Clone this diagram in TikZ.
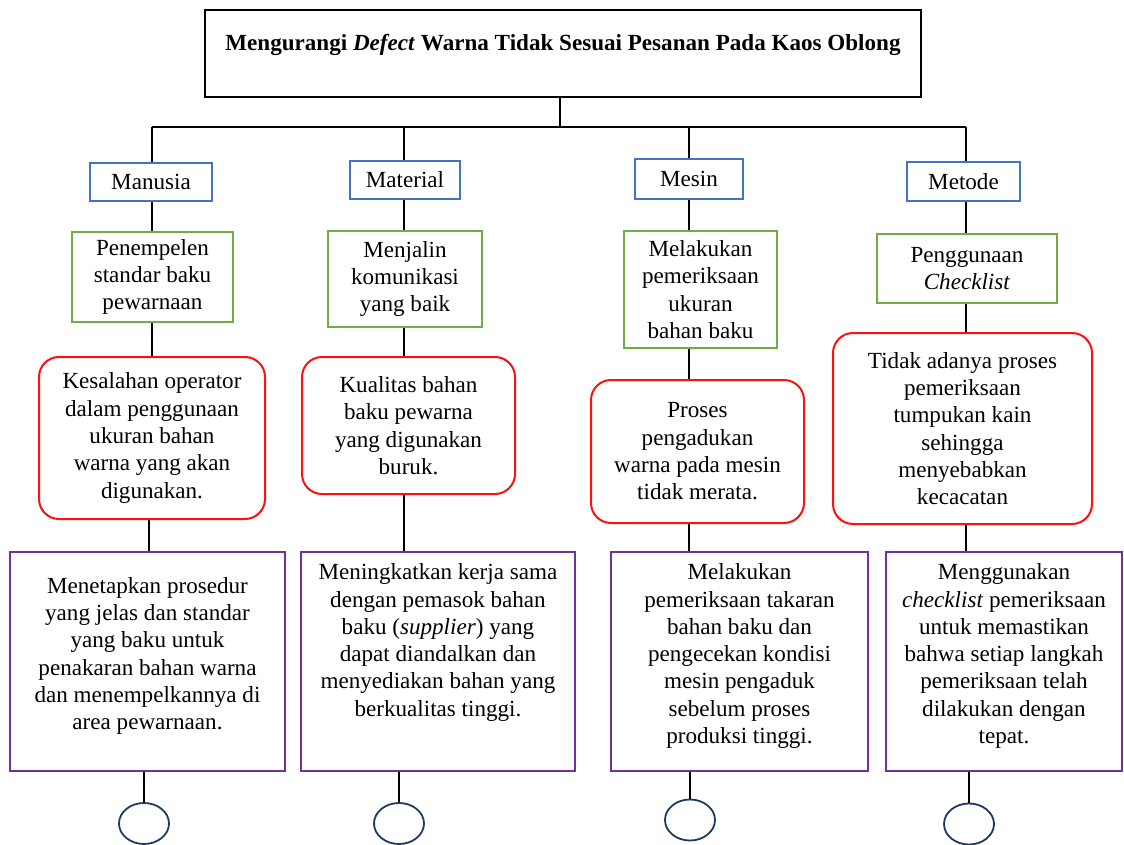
\documentclass[tikz,border=0pt]{standalone}
\usepackage{fontspec}
\setmainfont{Liberation Serif}
\usetikzlibrary{positioning,shapes.geometric}
\definecolor{catblue}{HTML}{4472C4}
\definecolor{plangreen}{HTML}{70AD47}
\definecolor{causered}{HTML}{FF1010}
\definecolor{fixpurple}{HTML}{7030A0}
\definecolor{endnavy}{HTML}{203864}

\begin{document}
\begin{tikzpicture}[x=1pt,y=-1pt,
  every node/.style={font=\fontsize{23.1}{27.3}\selectfont,inner sep=0pt,align=center},
  goal/.style={draw,line width=1.5pt,minimum width=716pt,minimum height=87pt,
    font=\fontsize{23.1}{27.3}\selectfont\bfseries,text depth=22pt},
  cat/.style={draw=catblue,line width=2.2pt},
  plan/.style={draw=plangreen,line width=2pt},
  cause/.style={draw=causered,line width=2pt,rounded corners=20pt},
  fix/.style={draw=fixpurple,line width=2pt,minimum height=219pt},
  endc/.style={draw=endnavy,line width=1.8pt,ellipse,minimum width=50pt,minimum height=41pt},
  link/.style={line width=1.5pt},
  bus/.style={line width=2.8pt}]
  \useasboundingbox (0,0) rectangle (1124,845);

  % goal and bus
  \node[goal] (goal) at (563,53.5) {Mengurangi \textit{Defect} Warna Tidak Sesuai Pesanan Pada Kaos Oblong};
  \coordinate (k1) at (152,127);
  \coordinate (k2) at (404,127);
  \coordinate (k3) at (689,127);
  \coordinate (k4) at (966,127);
  \coordinate (k1low) at (149,127);
  \draw[link] ([xshift=-3pt]goal.south) -- ([xshift=-3pt]goal.south |- k1);
  \draw[bus] (k1) -- (k4);

  % categories
  \node[cat,minimum width=122pt,minimum height=38pt] (cat1) at (151,182) {Manusia};
  \node[cat,minimum width=110pt,minimum height=38pt] (cat2) at (405,180) {Material};
  \node[cat,minimum width=108pt,minimum height=40pt] (cat3) at (689,179) {Mesin};
  \node[cat,minimum width=113pt,minimum height=39pt] (cat4) at (963.5,181.5) {Metode};

  % plans
  \node[plan,minimum width=161pt,minimum height=90pt] (plan1) at (152.5,277) {Penempelen\\standar baku\\pewarnaan};
  \node[plan,minimum width=154pt,minimum height=96pt] (plan2) at (405,279) {Menjalin\\komunikasi\\yang baik};
  \node[plan,minimum width=153pt,minimum height=117pt] (plan3) at (700.5,289.5) {Melakukan\\pemeriksaan\\ukuran\\bahan baku};
  \node[plan,minimum width=180pt,minimum height=69pt] (plan4) at (967,268.5) {Penggunaan\\\textit{Checklist}};

  % causes
  \node[cause,minimum width=226pt,minimum height=162pt] (cause1) at (152,438)
    {Kesalahan operator\\dalam penggunaan\\ukuran bahan\\warna yang akan\\digunakan.};
  \node[cause,minimum width=213pt,minimum height=137pt] (cause2) at (408.5,425.5)
    {Kualitas bahan\\baku pewarna\\yang digunakan\\buruk.};
  \node[cause,minimum width=213pt,minimum height=143pt] (cause3) at (697.5,451.5)
    {Proses\\pengadukan\\warna pada mesin\\tidak merata.};
  \node[cause,minimum width=259pt,minimum height=191pt] (cause4) at (962.5,428.5)
    {Tidak adanya proses\\pemeriksaan\\tumpukan kain\\sehingga\\menyebabkan\\kecacatan};

  % fixes
  \node[fix,minimum width=275pt] (fix1) at (147.5,661.5) {};
  \node[fix,minimum width=274pt] (fix2) at (438,661.5) {};
  \node[fix,minimum width=257pt] (fix3) at (739.5,661.5) {};
  \node[fix,minimum width=236pt] (fix4) at (1004,661.5) {};
  \node[below=26pt of fix1.north] (fix1txt) {Menetapkan prosedur\\yang jelas dan standar\\yang baku untuk\\penakaran bahan warna\\dan menempelkannya di\\area pewarnaan.};
  \node[below=12.5pt of fix2.north] (fix2txt) {Meningkatkan kerja sama\\dengan pemasok bahan\\baku (\textit{supplier}) yang\\dapat diandalkan dan\\menyediakan bahan yang\\berkualitas tinggi.};
  \node[below=12.5pt of fix3.north] (fix3txt) {Melakukan\\pemeriksaan takaran\\bahan baku dan\\pengecekan kondisi\\mesin pengaduk\\sebelum proses\\produksi tinggi.};
  \node[below=12.5pt of fix4.north] (fix4txt) {Menggunakan\\\textit{checklist} pemeriksaan\\untuk memastikan\\bahwa setiap langkah\\pemeriksaan telah\\dilakukan dengan\\tepat.};

  % end circles
  \node[endc] (end1) at (144,823.5) {};
  \node[endc] (end2) at (399,823.5) {};
  \node[endc] (end3) at (690,820) {};
  \node[endc] (end4) at (969,824) {};

  % connectors
  \draw[link] (k1) -- (k1 |- cat1.north);
  \draw[link] (k2) -- (k2 |- cat2.north);
  \draw[link] (k3) -- (k3 |- cat3.north);
  \draw[link] (k4) -- (k4 |- cat4.north);
  \draw[link] (k1 |- cat1.south) -- (k1 |- plan1.north);
  \draw[link] (k2 |- cat2.south) -- (k2 |- plan2.north);
  \draw[link] (k3 |- cat3.south) -- (k3 |- plan3.north);
  \draw[link] (k4 |- cat4.south) -- (k4 |- plan4.north);
  \draw[link] (k1 |- plan1.south) -- (k1 |- cause1.north);
  \draw[link] (k2 |- plan2.south) -- (k2 |- cause2.north);
  \draw[link] (k3 |- plan3.south) -- (k3 |- cause3.north);
  \draw[link] (k4 |- plan4.south) -- (k4 |- cause4.north);
  \draw[link] (k1low |- cause1.south) -- (k1low |- fix1.north);
  \draw[link] (k2 |- cause2.south) -- (k2 |- fix2.north);
  \draw[link] (k3 |- cause3.south) -- (k3 |- fix3.north);
  \draw[link] (k4 |- cause4.south) -- (k4 |- fix4.north);
  \draw[link] (end1.north |- fix1.south) -- (end1.north);
  \draw[link] (end2.north |- fix2.south) -- (end2.north);
  \draw[link] (end3.north |- fix3.south) -- (end3.north);
  \draw[link] (end4.north |- fix4.south) -- (end4.north);
\end{tikzpicture}
\end{document}
